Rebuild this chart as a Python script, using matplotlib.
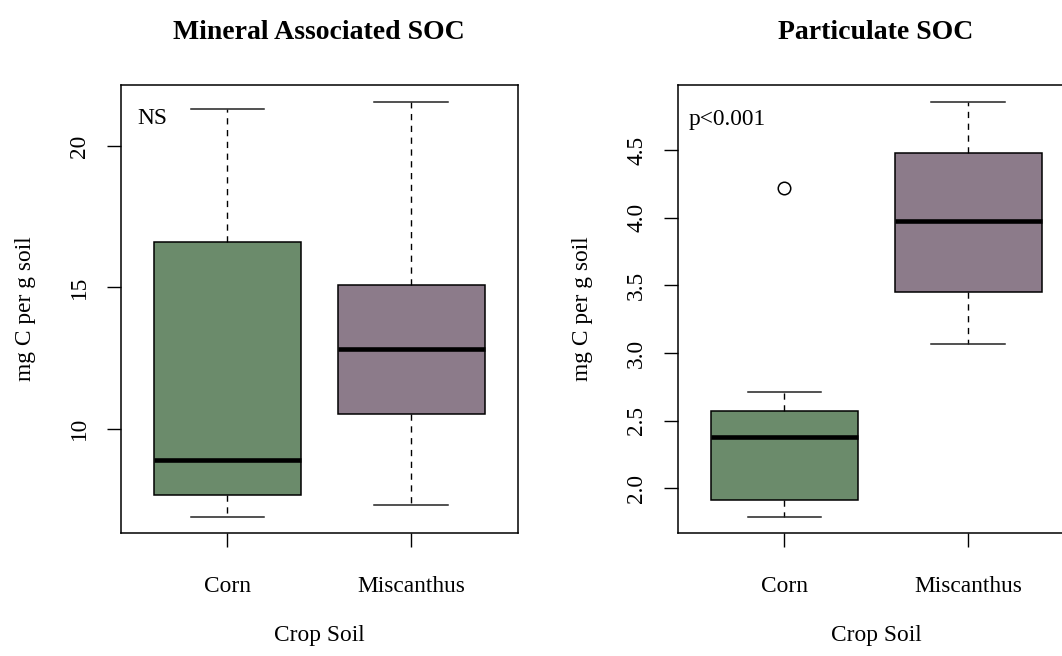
import matplotlib
matplotlib.use("Agg")
import matplotlib.pyplot as plt

plt.rcParams["font.family"] = ["Liberation Serif", "DejaVu Serif"]

crops = ["Corn", "Miscanthus"]
box_colors = ["#6b8b6b", "#8c7b8a"]

# Five-number summaries (whisker low, Q1, median, Q3, whisker high) and outliers
mineral_whislo = [6.89, 7.31]
mineral_q1 = [7.67, 10.52]
mineral_med = [8.89, 12.83]
mineral_q3 = [16.59, 15.08]
mineral_whishi = [21.30, 21.57]
mineral_fliers = [[], []]

partic_whislo = [1.79, 3.07]
partic_q1 = [1.91, 3.45]
partic_med = [2.38, 3.98]
partic_q3 = [2.57, 4.48]
partic_whishi = [2.71, 4.86]
partic_fliers = [[4.22], []]

mineral_ticks = [10, 15, 20]
partic_ticks = [2.0, 2.5, 3.0, 3.5, 4.0, 4.5]

W, H = 1062, 656
fig = plt.figure(figsize=(W / 100, H / 100), dpi=100)


def px_axes(left, top, right, bottom):
    return fig.add_axes([left / W, 1 - bottom / H, (right - left) / W, (bottom - top) / H])


def draw_panel(ax, title, whislo, q1, med, q3, whishi, fliers, ticks, ticklabels, note, note_dx):
    stats = []
    for i, name in enumerate(crops):
        stats.append(dict(label=name, whislo=whislo[i], q1=q1[i], med=med[i],
                          q3=q3[i], whishi=whishi[i], fliers=fliers[i]))
    bp = ax.bxp(stats, positions=[1, 2], widths=0.8, capwidths=0.4,
                patch_artist=True, showfliers=True,
                boxprops=dict(edgecolor="black", linewidth=1.1),
                medianprops=dict(color="black", linewidth=3.3, solid_capstyle="butt"),
                whiskerprops=dict(color="black", linewidth=1.0, linestyle=(0, (4.5, 4))),
                capprops=dict(color="#222222", linewidth=1.1),
                flierprops=dict(marker="o", markersize=9, markerfacecolor="none",
                                markeredgecolor="black", markeredgewidth=1.1))
    for patch, col in zip(bp["boxes"], box_colors):
        patch.set_facecolor(col)

    lo = min(whislo + [v for f in fliers for v in f])
    hi = max(whishi + [v for f in fliers for v in f])
    span = hi - lo
    ax.set_ylim(lo - 0.04 * span, hi + 0.04 * span)
    ax.set_xlim(0.42, 2.58)

    ax.set_yticks(ticks)
    ax.set_yticklabels(ticklabels, rotation=90, va="center")
    ax.set_xticks([1, 2])
    ax.set_xticklabels(crops)
    ax.tick_params(axis="both", direction="out", length=10, width=1.0,
                   labelsize=16.8, colors="black")
    ax.tick_params(axis="y", pad=12)
    ax.tick_params(axis="x", pad=21)
    for s in ax.spines.values():
        s.set_linewidth(1.1)

    ax.set_title(title, fontsize=20, fontweight="bold", pad=33)
    ax.set_ylabel("mg C per g soil", fontsize=16.8)
    ax.yaxis.label.set_va("center")
    ax.yaxis.set_label_coords(-0.24, 0.5)
    ax.set_xlabel("Crop Soil", fontsize=16.8)
    ax.xaxis.label.set_va("center")
    ax.xaxis.set_label_coords(0.5, -0.228)

    ax.annotate(note, xy=(0, 1), xycoords="axes fraction",
                xytext=(note_dx, -34), textcoords="offset pixels",
                ha="left", va="center", fontsize=16.8)


ax1 = px_axes(120.7, 85, 517.7, 533.3)
draw_panel(ax1, "Mineral Associated SOC", mineral_whislo, mineral_q1, mineral_med,
           mineral_q3, mineral_whishi, mineral_fliers, mineral_ticks,
           [str(t) for t in mineral_ticks], "NS", 17)

ax2 = px_axes(677.7, 85, 1074.6, 533.3)
draw_panel(ax2, "Particulate SOC", partic_whislo, partic_q1, partic_med,
           partic_q3, partic_whishi, partic_fliers, partic_ticks,
           [f"{t:.1f}" for t in partic_ticks], "p<0.001", 11)

fig.savefig("out.png", dpi=100)
